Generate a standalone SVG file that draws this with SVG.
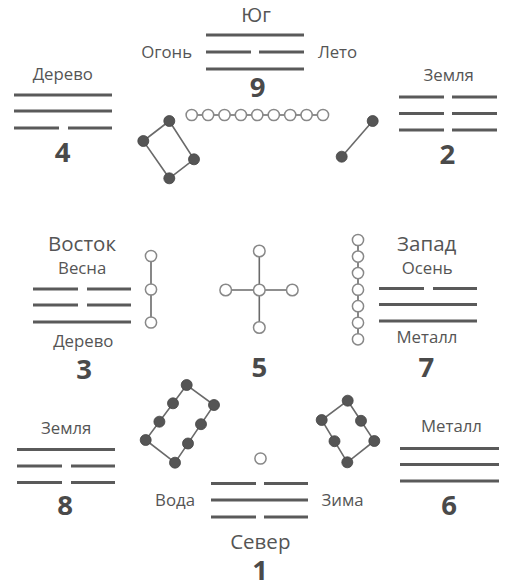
<svg xmlns="http://www.w3.org/2000/svg" width="506" height="580" viewBox="0 0 506 580">
<style>
text{font-family:"Open Sans","Liberation Sans",sans-serif;fill:#555;text-anchor:middle}
.s{font-size:16.8px}
.d{font-size:20.5px}
.n{font-size:27.5px;font-weight:bold;fill:#4a4a4a}
.y{stroke:#5a5a5a;stroke-width:2.8;fill:none}
.c{stroke:#6a6a6a;stroke-width:1.6;fill:none}
.o{fill:#fff;stroke:#888;stroke-width:1.5}
.f{fill:#555;stroke:#444;stroke-width:0.8}
</style>
<rect width="506" height="580" fill="#fff"/>
<g id="connectors">
<line class="c" x1="191.7" y1="115" x2="323" y2="115"/>
<line class="c" x1="358" y1="240" x2="358" y2="339.3"/>
<line class="c" x1="151" y1="256" x2="151" y2="322.5"/>
<line class="c" x1="259.3" y1="251" x2="259.3" y2="327.5"/>
<line class="c" x1="225.7" y1="290" x2="292.3" y2="290"/>
<polygon class="c" points="169.3,121 143.3,141 169.3,178.3 194,159.3"/>
<line class="c" x1="372.7" y1="121" x2="341.7" y2="156.7"/>
<polygon class="c" points="186.7,385 145.7,440 175,462.7 214,405"/>
<polygon class="c" points="347.7,400.7 321.7,420 347.3,462.3 374.3,441"/>
</g>
<g id="south-9">
<text class="d" x="256" y="21.5" style="font-size:20px">Юг</text>
<text class="s" x="166.7" y="58">Огонь</text>
<text class="s" x="337.5" y="58">Лето</text>
<path class="y" d="M206 35H304M206 52H251M259 52H304M206 69H304"/>
<text class="n" x="257.5" y="97">9</text>
</g>
<g id="beads-9">
<circle class="o" cx="191.7" cy="115" r="5.6"/>
<circle class="o" cx="208.1" cy="115" r="5.6"/>
<circle class="o" cx="224.5" cy="115" r="5.6"/>
<circle class="o" cx="240.9" cy="115" r="5.6"/>
<circle class="o" cx="257.3" cy="115" r="5.6"/>
<circle class="o" cx="273.8" cy="115" r="5.6"/>
<circle class="o" cx="290.2" cy="115" r="5.6"/>
<circle class="o" cx="306.6" cy="115" r="5.6"/>
<circle class="o" cx="323" cy="115" r="5.6"/>
</g>
<g id="southeast-4">
<text class="s" x="62.8" y="80">Дерево</text>
<path class="y" d="M14 95H112M14 111H112M14 128H59M68 128H112"/>
<text class="n" x="62.7" y="162">4</text>
</g>
<g id="beads-4">
<circle class="f" cx="169.3" cy="121" r="5.5"/>
<circle class="f" cx="143.3" cy="141" r="5.5"/>
<circle class="f" cx="169.3" cy="178.3" r="5.5"/>
<circle class="f" cx="194" cy="159.3" r="5.5"/>
</g>
<g id="southwest-2">
<text class="s" x="448.7" y="81">Земля</text>
<path class="y" d="M399 97H444M452 97H497M399 113.5H444M452 113.5H497M399 130H444M452 130H497"/>
<text class="n" x="447.3" y="164">2</text>
</g>
<g id="beads-2">
<circle class="f" cx="372.7" cy="121" r="5.5"/>
<circle class="f" cx="341.7" cy="156.7" r="5.5"/>
</g>
<g id="east-3">
<text class="d" x="82" y="250.5">Восток</text>
<text class="s" x="82.2" y="273.5">Весна</text>
<path class="y" d="M33 289H78M87 289H131M33 305H78M87 305H131M33 322H131"/>
<text class="s" x="83.3" y="346.5">Дерево</text>
<text class="n" x="84" y="378.5">3</text>
</g>
<g id="beads-3">
<circle class="o" cx="151" cy="256" r="5.6"/>
<circle class="o" cx="151" cy="289.5" r="5.6"/>
<circle class="o" cx="151" cy="322.5" r="5.6"/>
</g>
<g id="center-5">
<circle class="o" cx="259.3" cy="251" r="5.8"/>
<circle class="o" cx="259.3" cy="327.5" r="5.8"/>
<circle class="o" cx="225.7" cy="290" r="5.8"/>
<circle class="o" cx="292.3" cy="290" r="5.8"/>
<circle class="o" cx="259.3" cy="290" r="5.8"/>
<text class="n" x="259.3" y="377">5</text>
</g>
<g id="beads-7">
<circle class="o" cx="358" cy="240" r="5.6"/>
<circle class="o" cx="358" cy="256.6" r="5.6"/>
<circle class="o" cx="358" cy="273.1" r="5.6"/>
<circle class="o" cx="358" cy="289.7" r="5.6"/>
<circle class="o" cx="358" cy="306.2" r="5.6"/>
<circle class="o" cx="358" cy="322.8" r="5.6"/>
<circle class="o" cx="358" cy="339.3" r="5.6"/>
</g>
<g id="west-7">
<text class="d" x="426.7" y="251">Запад</text>
<text class="s" x="427.2" y="273.5">Осень</text>
<path class="y" d="M379 288.5H424M433 288.5H477M379 304.5H477M379 321H477"/>
<text class="s" x="427" y="342.5">Металл</text>
<text class="n" x="426.3" y="377">7</text>
</g>
<g id="northeast-8">
<text class="s" x="66.2" y="433.5">Земля</text>
<path class="y" d="M17 449.5H115M17 466H62M71 466H115M17 482.5H62M71 482.5H115"/>
<text class="n" x="65" y="515">8</text>
</g>
<g id="beads-8">
<circle class="f" cx="186.7" cy="385" r="5.5"/>
<circle class="f" cx="173" cy="403.3" r="5.5"/>
<circle class="f" cx="159.4" cy="421.7" r="5.5"/>
<circle class="f" cx="145.7" cy="440" r="5.5"/>
<circle class="f" cx="175" cy="462.7" r="5.5"/>
<circle class="f" cx="188" cy="443.5" r="5.5"/>
<circle class="f" cx="201" cy="424.2" r="5.5"/>
<circle class="f" cx="214" cy="405" r="5.5"/>
</g>
<g id="beads-6">
<circle class="f" cx="347.7" cy="400.7" r="5.5"/>
<circle class="f" cx="321.7" cy="420" r="5.5"/>
<circle class="f" cx="334.5" cy="441.2" r="5.5"/>
<circle class="f" cx="347.3" cy="462.3" r="5.5"/>
<circle class="f" cx="374.3" cy="441" r="5.5"/>
<circle class="f" cx="361" cy="420.8" r="5.5"/>
</g>
<g id="north-1">
<circle class="o" cx="260.5" cy="458.5" r="5.6"/>
<path class="y" d="M211 483.5H256M264 483.5H308M211 500H308M211 517H256M264 517H308"/>
<text class="s" x="175" y="506">Вода</text>
<text class="s" x="342.5" y="506">Зима</text>
<text class="d" x="260.3" y="548.5">Север</text>
<text class="n" x="260" y="580">1</text>
</g>
<g id="northwest-6">
<text class="s" x="451.5" y="432">Металл</text>
<path class="y" d="M400 448.5H499M400 464.5H499M400 481H499"/>
<text class="n" x="449" y="515">6</text>
</g>
</svg>
